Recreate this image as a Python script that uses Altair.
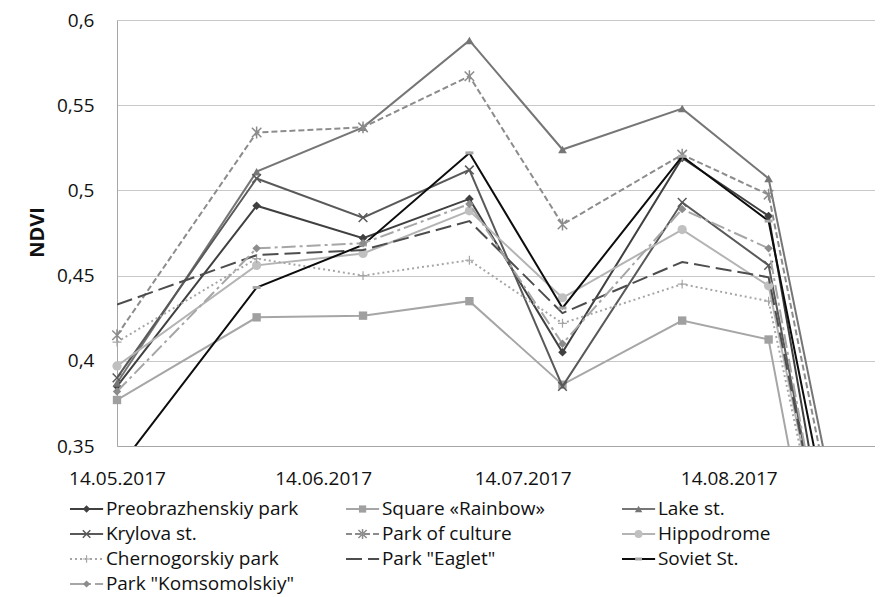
import altair as alt
import pandas as pd

# ---------------- data ----------------
dates = ["2017-05-14", "2017-06-04", "2017-06-20", "2017-07-06",
         "2017-07-20", "2017-08-07", "2017-08-20", "2017-09-05"]

series_names = ["Preobrazhenskiy park", "Square «Rainbow»", "Lake st.",
                "Krylova st.", "Park of culture", "Hippodrome",
                "Chernogorskiy park", 'Park "Eaglet"', "Soviet St.",
                'Park "Komsomolskiy"']

preobrazhenskiy_park = [0.385, 0.491, 0.472, 0.495, 0.405, 0.519, 0.485, 0.127]
square_rainbow = [0.377, 0.4255, 0.4265, 0.435, 0.386, 0.4236, 0.4125, 0.081]
lake_st = [0.387, 0.511, 0.537, 0.588, 0.524, 0.548, 0.507, 0.199]
krylova_st = [0.390, 0.507, 0.484, 0.512, 0.385, 0.493, 0.456, 0.135]
park_of_culture = [0.415, 0.534, 0.537, 0.567, 0.480, 0.521, 0.4975, 0.185]
hippodrome = [0.397, 0.456, 0.463, 0.488, 0.437, 0.477, 0.444, 0.142]
chernogorskiy_park = [0.411, 0.460, 0.450, 0.459, 0.422, 0.445, 0.435, 0.144]
park_eaglet = [0.433, 0.462, 0.465, 0.482, 0.428, 0.458, 0.449, 0.140]
soviet_st = [0.336, 0.443, 0.468, 0.522, 0.431, 0.520, 0.482, 0.171]
park_komsomolskiy = [0.382, 0.466, 0.469, 0.492, 0.410, 0.489, 0.466, 0.124]

y_ticks = [0.35, 0.4, 0.45, 0.5, 0.55, 0.6]
x_tick_dates = ["2017-05-14", "2017-06-14", "2017-07-14", "2017-08-14"]
y_title = "NDVI"

all_values = [preobrazhenskiy_park, square_rainbow, lake_st, krylova_st,
              park_of_culture, hippodrome, chernogorskiy_park, park_eaglet,
              soviet_st, park_komsomolskiy]

rows = []
for name, vals in zip(series_names, all_values):
    for d, v in zip(dates, vals):
        rows.append({"series": name, "date": d, "ndvi": v})
df = pd.DataFrame(rows)

# legend table: 3 columns, row-major
LEG_COLS = 3
leg_rows = []
for i, name in enumerate(series_names):
    c, r = i % LEG_COLS, i // LEG_COLS
    leg_rows.append({"series": name, "col": c, "row": r})
leg = pd.DataFrame(leg_rows)
leg["lx0"] = leg["col"] + 0.0
leg["lx1"] = leg["col"] + 0.12
leg["lm"] = leg["col"] + 0.06
leg["lt"] = leg["col"] + 0.13

# ---------------- styles ----------------
XPATH = "M-1,-1L1,1M-1,1L1,-1"
ASTER = "M-1,-1L1,1M-1,1L1,-1M0,-1.25L0,1.25"
PLUS = "M-1,0L1,0M0,-1L0,1"
BAR = "M-1,0L1,0"

STYLE = {
    "Preobrazhenskiy park": dict(line="#404040", shape="diamond", filled=True, mcolor="#404040", size=75),
    "Square «Rainbow»": dict(line="#a6a6a6", shape="square", filled=True, mcolor="#a0a0a0", size=70),
    "Lake st.": dict(line="#767676", shape="triangle-up", filled=True, mcolor="#767676", size=75),
    "Krylova st.": dict(line="#595959", shape=XPATH, filled=False, mcolor="#595959", size=75, sw=1.5),
    "Park of culture": dict(line="#8c8c8c", dash=[6, 3], shape=ASTER, filled=False, mcolor="#8c8c8c", size=90, sw=1.5),
    "Hippodrome": dict(line="#b4b4b4", shape="circle", filled=True, mcolor="#c0c0c0", size=85),
    "Chernogorskiy park": dict(line="#a6a6a6", dash=[2, 3], shape=PLUS, filled=False, mcolor="#a6a6a6", size=80, sw=1.2),
    'Park "Eaglet"': dict(line="#4d4d4d", dash=[16, 6]),
    "Soviet St.": dict(line="#0d0d0d", shape=BAR, filled=False, mcolor="#a6a6a6", size=64, sw=3),
    'Park "Komsomolskiy"': dict(line="#a6a6a6", dash=[14, 4, 3, 4], shape="diamond", filled=True, mcolor="#8c8c8c", size=70),
}

FONT = "Open Sans"
TXT = "#111111"


def dt(s):
    return alt.DateTime(year=int(s[:4]), month=int(s[5:7]), date=int(s[8:10]), utc=True)


X = alt.X("date:T",
          scale=alt.Scale(type="utc", domain=[dt(dates[0]), dt(dates[-1])], nice=False),
          axis=alt.Axis(values=[dt(s) for s in x_tick_dates],
                        labelExpr="utcFormat(datum.value, '%d.%m.%Y')",
                        title=None, grid=False, ticks=False, labelPadding=23,
                        labelFlush=False, labelOverlap=False,
                        domainColor="#a6a6a6", domainWidth=1,
                        labelFont=FONT, labelFontSize=19, labelColor=TXT))
Y = alt.Y("ndvi:Q",
          scale=alt.Scale(domain=[y_ticks[0], y_ticks[-1]], nice=False, zero=False),
          axis=alt.Axis(values=y_ticks,
                        labelExpr="replace(format(datum.value, '.2~f'), '.', ',')",
                        title=y_title, titleFont=FONT, titleFontWeight="bold",
                        titleFontSize=20, titleColor=TXT, titleAngle=270,
                        titleX=-80, titleY=212, titleAlign="center",
                        titleBaseline="middle",
                        ticks=False, labelPadding=23, grid=True,
                        gridColor="#c8c8c8", gridWidth=1,
                        domainColor="#a6a6a6", domainWidth=1,
                        labelFont=FONT, labelFontSize=19, labelColor=TXT))

LX = alt.Scale(domain=[0, 3], range=[-47, 781], nice=False, zero=False)
LY = alt.Scale(domain=[0, 3], range=[489, 564], nice=False, zero=False)

main_layers = []
legend_layers = []
for name in series_names:
    st = STYLE[name]
    sel = alt.FieldEqualPredicate(field="series", equal=name)
    lkw = dict(clip=True, stroke=st["line"], strokeWidth=2)
    if "dash" in st:
        lkw["strokeDash"] = st["dash"]
    main_layers.append(
        alt.Chart().mark_line(**lkw).encode(x=X, y=Y).transform_filter(sel))
    legend_layers.append(
        alt.Chart(leg).mark_rule(**{k: v for k, v in lkw.items() if k != "clip"})
        .encode(x=alt.X("lx0:Q", scale=LX, axis=None), x2="lx1:Q",
                y=alt.Y("row:Q", scale=LY, axis=None))
        .transform_filter(sel))
    if "shape" in st:
        pkw = dict(shape=st["shape"], size=st["size"], opacity=1,
                   filled=st["filled"], color=st["mcolor"])
        if not st["filled"]:
            pkw["strokeWidth"] = st.get("sw", 1.5)
        main_layers.append(
            alt.Chart().mark_point(**pkw).encode(x=X, y=Y)
            .transform_filter(sel)
            .transform_filter(alt.FieldGTEPredicate(field="ndvi", gte=y_ticks[0])))
        lpkw = dict(pkw)
        lpkw["size"] = int(st["size"] * 0.75)
        legend_layers.append(
            alt.Chart(leg).mark_point(**lpkw)
            .encode(x=alt.X("lm:Q", scale=LX, axis=None),
                    y=alt.Y("row:Q", scale=LY, axis=None))
            .transform_filter(sel))

legend_layers.append(
    alt.Chart(leg).mark_text(align="left", baseline="middle", font=FONT,
                             fontSize=19, color=TXT)
    .encode(x=alt.X("lt:Q", scale=LX, axis=None),
            y=alt.Y("row:Q", scale=LY, axis=None),
            text="series:N"))

main = alt.layer(*main_layers, data=df)
legend = alt.layer(*legend_layers)

chart = (
    alt.layer(main, legend)
    .resolve_scale(x="independent", y="independent")
    .properties(width=758, height=426,
                padding={"left": 109, "top": 12, "right": 0, "bottom": 150},
                autosize=alt.AutoSizeParams(type="none"))
    .configure_view(stroke=None)
    .configure(background="white")
)

chart.save("out.html", embed_options={"renderer": "svg", "actions": False})
